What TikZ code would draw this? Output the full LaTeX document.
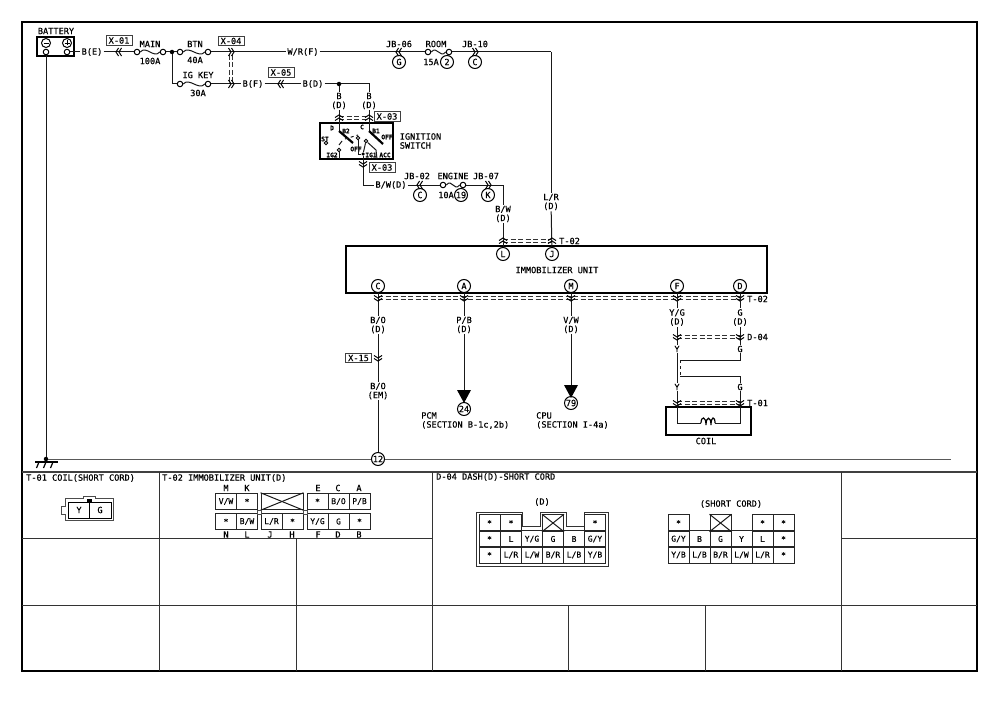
\documentclass[tikz,border=0pt]{standalone}
\usepackage{fontspec}
\setmainfont[RawFeature={embolden=0.35}]{DejaVu Sans Mono}
\usetikzlibrary{arrows.meta}
\newcommand{\cellstar}{\raisebox{-1.6pt}{*}}
\newcommand{\hlink}[3]{\foreach \off in {-1.3,1.3} \draw[dashlink] (#1,#3+\off) -- (#2,#3+\off);}
\newcommand{\vlink}[3]{\foreach \off in {-1.3,1.3} \draw[dashlink] (#1+\off,#2) -- (#1+\off,#3);}
\tikzset{
  wire/.style={line width=1pt,black!90},
  frameline/.style={line width=1pt,black!80},
  heavy/.style={line width=2.2pt,black},
  dashlink/.style={line width=0.7pt,dash pattern=on 5pt off 2.5pt,black!80},
  lbl/.style={inner sep=1pt,font=\fontsize{8.6}{9}\selectfont,align=center},
  tiny/.style={inner sep=0pt,font=\fontsize{6.2}{7}\selectfont\bfseries},
  tag/.style={draw=black!75,line width=0.9pt,inner sep=0pt,minimum width=26pt,minimum height=9.5pt,font=\fontsize{8.6}{9}\selectfont},
  pin/.style={draw,circle,line width=1pt,inner sep=0pt,minimum size=13pt,font=\fontsize{8.6}{9}\selectfont},
  term/.style={draw,circle,line width=1pt,inner sep=0pt,minimum size=5.5pt},
  junction/.style={fill,circle,inner sep=0pt,minimum size=4.5pt},
  cell/.style={draw=black!85,line width=1pt,inner sep=0pt,minimum width=21pt,minimum height=16.5pt,font=\fontsize{8}{9}\selectfont},
  chev/.pic={
    \draw[line width=1pt,black] (-4,-2.5) -- (0,0) -- (4,-2.5);
    \draw[line width=1pt,black] (-4,0.5) -- (0,3) -- (4,0.5);
  },
}
\begin{document}
\begin{tikzpicture}[x=1pt,y=-1pt]
\useasboundingbox (0,0) rectangle (1000,706);

% Frame and grid
\draw[line width=1.8pt] (22,22) rectangle (977,671);
\draw[line width=1.6pt,black!75] (22,472) -- (977,472);
\draw[frameline] (22,605) -- (977,605);
\draw[frameline] (22,538) -- (432,538);
\draw[frameline] (841,538) -- (977,538);
\foreach \x in {159,432,841} \draw[frameline] (\x,472) -- (\x,671);
\draw[frameline] (296,538) -- (296,671);
\foreach \x in {568,705} \draw[frameline] (\x,605) -- (\x,671);

% Battery
\node[lbl] (batlabel) at (56,31) {BATTERY};
\draw[heavy] (37,37) rectangle (74,56);
\node[term,minimum size=9pt] (batm) at (46,43) {};
\node[term,minimum size=9pt] (batp) at (67,43) {};
\draw (43.5,43) -- (48.5,43);
\draw (64.5,43) -- (69.5,43) (67,40.5) -- (67,45.5);
\node[term] (batb) at (46,52) {};
\node[term] (batc) at (67,52) {};

% Fuses
\foreach \fname/\xa/\xb/\yy in {main/137/163/52,btn/180/208/52,igkey/180/208/84,room/428/449/52,engine/443/463/185}{
  \node[term] (\fname a) at (\xa,\yy) {};
  \node[term] (\fname b) at (\xb,\yy) {};
  \draw[wire] (\fname a.east) .. controls +(6,-7) and +(-6,7) .. (\fname b.west);
}

% Labels of the top row
\node[lbl] (be) at (92,52) {B(E)};
\node[tag] (x01) at (119,40.5) {X-01};
\node[lbl] (lmain) at (150,44) {MAIN};
\node[lbl] (l100) at (150,61) {100A};
\node[junction] (j1) at (172,52) {};
\node[lbl] (lbtn) at (195,44) {BTN};
\node[lbl] (l40) at (195,60) {40A};
\node[tag] (x04) at (231,41) {X-04};
\node[lbl] (wrf) at (303,52) {W/R(F)};
\node[lbl] (ljb06) at (399,44) {JB-06};
\node[pin] (pG) at (399,62) {G};
\node[lbl] (lroom) at (436,44) {ROOM};
\node[lbl] (l15) at (431,62) {15A};
\node[pin] (p2) at (447,62) {2};
\node[lbl] (ljb10) at (475,44) {JB-10};
\node[pin] (pC2) at (475,62) {C};
\node[lbl] (lgkey) at (198,75) {IG KEY};
\node[lbl] (l30) at (198,93) {30A};
\node[lbl] (bf) at (253,84) {B(F)};
\node[tag] (x05) at (281,72.5) {X-05};
\node[lbl] (bd) at (313,84) {B(D)};
\node[junction] (j2) at (339,84) {};
\coordinate (c1) at (369,84);
\coordinate (c2) at (551,52);
\node[lbl] (bd1) at (339,101) {B\\(D)};
\node[lbl] (bd2) at (369,101) {B\\(D)};

% Top wires
\draw[wire] (batc) -- (be) -- (maina);
\draw[wire] (mainb) -- (j1) -- (btna);
\draw[wire] (btnb) -- (wrf) -- (rooma);
\draw[wire] (roomb) -- (c2);
\draw[wire] (j1) |- (igkeya);
\draw[wire] (igkeyb) -- (bf) -- (bd) -- (j2) -- (c1) -- (bd2);
\draw[wire] (j2) -- (bd1);
\vlink{231}{55}{81}
\pic[rotate=-90] at (119,52) {chev};
\pic[rotate=90] at (231,52) {chev};
\pic[rotate=90] at (231,84) {chev};
\pic[rotate=-90] at (281,84) {chev};
\pic[rotate=-90] at (399,52) {chev};
\pic[rotate=90] at (475,52) {chev};

% Ignition switch
\node[tag] (x03a) at (387,116.5) {X-03};
\hlink{339}{369}{118}
\draw[heavy] (320,123) rectangle (393,159);
\coordinate (swd) at (339,131);
\coordinate (swc) at (369,131);
\draw[wire] (bd1) -- (swd);
\draw[wire] (bd2) -- (swc);
\pic[rotate=180] at (339,118) {chev};
\pic[rotate=180] at (369,118) {chev};
\draw[line width=2.2pt] (339,131) -- (353,143);
\draw[line width=2.2pt] (369,131) -- (383,144);
\draw[wire] (339,145) -- (342,141);
\draw[wire,dashed] (345,139) -- (358,135);
\node[tiny] (sd) at (332,128) {D};
\node[tiny] (sb2) at (346,131) {B2};
\node[tiny] (soff1) at (356,149) {OFF};
\node[tiny] (sc) at (362,127) {C};
\node[tiny] (sb1) at (376,131) {B1};
\node[tiny] (soff2) at (387,137) {OFF};
\node[tiny] (sst) at (325,139) {ST};
\node[tiny] (sig2) at (332,155) {IG2};
\node[tiny] (sig1) at (371,155) {IG1};
\node[tiny] (sacc) at (385,155) {ACC};
\node[term,minimum size=3.5pt] (tst) at (326,143) {};
\node[term,minimum size=3.5pt] (tig2) at (339,150) {};
\node[term,minimum size=3.5pt] (tb) at (358,138) {};
\node[term,minimum size=3.5pt] (ta) at (366,141) {};
\node[junction,minimum size=3.5pt] (jsw) at (363,154) {};
\draw[wire] (tig2) -- (339,159);
\draw[wire] (tb) |- (jsw);
\draw[wire] (ta) -- (jsw);
\draw[wire] (ta) -- (376,150) -- (377,159);
\node[lbl,align=left] (lign) at (420.5,141) {IGNITION\\SWITCH};
\node[tag] (x03b) at (382,167.5) {X-03};

% Engine branch
\node[lbl] (bwd) at (391,185) {B/W(D)};
\node[lbl] (ljb02) at (417,176) {JB-02};
\node[pin] (pC3) at (420,195) {C};
\node[lbl] (lengine) at (453,176) {ENGINE};
\node[lbl] (l10) at (446,195) {10A};
\node[pin] (p19) at (461,195) {19};
\node[lbl] (ljb07) at (486,176) {JB-07};
\node[pin] (pK) at (488,195) {K};
\node[lbl] (bw2) at (503,214) {B/W\\(D)};
\node[lbl] (lr) at (551,202) {L/R\\(D)};
\coordinate (c3) at (503,185);
\draw[wire] (jsw) |- (bwd);
\draw[wire] (bwd) -- (enginea);
\draw[wire] (engineb) -- (c3) -- (bw2);
\draw[wire] (c2) -- (lr);
\pic at (363,164) {chev};
\pic[rotate=-90] at (420,185) {chev};
\pic[rotate=90] at (488,185) {chev};

% Immobilizer unit
\draw[heavy] (346,246) rectangle (767,293);
\node[lbl] (limmo) at (557,270) {IMMOBILIZER UNIT};
\foreach \pname/\x/\yy in {L/503/254,J/552/254,C/378/286,A/464/286,M/571/286,F/677/286,D/740/286}
  \node[pin] (p\pname) at (\x,\yy) {\pname};
\draw[wire] (bw2) -- (pL);
\draw[wire] (lr) -- (pJ);
\hlink{503}{552}{241}
\pic[rotate=180] at (503,241) {chev};
\pic[rotate=180] at (552,241) {chev};
\node[lbl,anchor=west] (t02a) at (558,241) {T-02};
\hlink{378}{740}{298}
\node[lbl,anchor=west] (t02b) at (746,299) {T-02};

% Lower wires
\node[lbl] (bo1) at (378,325) {B/O\\(D)};
\node[tag] (x15) at (358.5,358) {X-15};
\node[lbl] (bo2) at (378,391) {B/O\\(EM)};
\node[pin] (p12) at (378,459) {12};
\draw[wire] (pC) -- (bo1) -- (bo2) -- (p12);
\node[lbl] (pb) at (464,325) {P/B\\(D)};
\node[lbl] (vw) at (571,325) {V/W\\(D)};
\coordinate (arra) at (464,390);
\coordinate (arrm) at (571,385);
\draw[wire] (pA) -- (pb) -- (arra);
\draw[wire] (pM) -- (vw) -- (arrm);
\fill (457,390) -- (471,390) -- (464,403) -- cycle;
\fill (564,385) -- (578,385) -- (571,398) -- cycle;
\node[pin] (p24) at (464,409) {24};
\node[pin] (p79) at (571,403) {79};
\node[lbl,align=left,anchor=north west] (lpcm) at (420,411) {PCM\\(SECTION B-1c,2b)};
\node[lbl,align=left,anchor=north west] (lcpu) at (535,411) {CPU\\(SECTION I-4a)};
\foreach \x in {378,464,571,677,740} \pic at (\x,298) {chev};
\pic at (378,358) {chev};

% Coil branch
\node[lbl] (yg) at (677,317.5) {Y/G\\(D)};
\node[lbl] (gd) at (740,317.5) {G\\(D)};
\node[lbl] (y1) at (677,349) {Y};
\node[lbl] (g1) at (740,349) {G};
\node[lbl] (y2) at (677,387) {Y};
\node[lbl] (g2) at (740,387) {G};
\node[lbl,anchor=west] (d04) at (746,337) {D-04};
\node[lbl,anchor=west] (t01) at (746,403) {T-01};
\node[lbl] (lcoil) at (706,441) {COIL};
\draw[heavy] (666,407) rectangle (751,435);
\coordinate (cr1) at (680,360);
\coordinate (cr2) at (680,376);
\coordinate (coilA) at (701,423);
\coordinate (coilB) at (715,423);
\draw[wire] (pF) -- (yg) -- (y1) -- (y2) -- (677,423) -- (coilA);
\draw[wire] (pD) -- (gd) -- (g1);
\draw[wire] (g1) |- (cr1);
\draw[wire,dashed] (cr1) -- (cr2);
\draw[wire] (cr2) -| (g2);
\draw[wire] (g2) -- (740,423) -- (coilB);
\draw[line width=1.2pt] (coilA) .. controls (701,416) and (706,416) .. (706,425)
  .. controls (706,416) and (711,416) .. (711,425)
  .. controls (711,416) and (715,416) .. (coilB);
\hlink{677}{740}{337}
\hlink{677}{740}{403}
\foreach \x in {677,740}{
  \pic at (\x,337) {chev};
  \pic at (\x,403) {chev};
}

% Ground
\coordinate (gndend) at (951,459);
\node[junction] (jgnd) at (46,459) {};
\draw[wire] (batb) -- (jgnd);
\draw[wire,black!65] (jgnd) -- (p12) -- (gndend);
\draw[line width=1.4pt] (35,462) -- (58,462);
\foreach \x in {39,46,53} \draw[line width=1.2pt] (\x,462) -- (\x-2.5,468);

% Section titles
\node[lbl,anchor=west] (tt01) at (25,478) {T-01 COIL(SHORT CORD)};
\node[lbl,anchor=west] (tt02) at (161,478) {T-02 IMMOBILIZER UNIT(D)};
\node[lbl,anchor=west] (td04) at (435,477) {D-04 DASH(D)-SHORT CORD};

% T-01 connector
\draw[line width=0.7pt,black!70] (65,498) -- (83,498) -- (83,496.5) -- (95,496.5) -- (95,498) -- (113,498) -- (113,520) -- (65,520) -- (65,514) -- (61,514) -- (61,506) -- (65,506) -- cycle;
\draw[line width=0.8pt] (68,502) rectangle (111,518);
\draw[line width=0.8pt] (89,502) -- (89,518);
\fill (87,499) rectangle (92,501.5);
\node[lbl] (cy) at (79,510) {Y};
\node[lbl] (cg) at (100,510) {G};

% T-02 connector
\foreach \x/\t in {226/M,247/K,318/E,338/C,359/A}
  \node[lbl] (top\t) at (\x,488) {\t};
\foreach \x/\t in {226/N,247/L,270/J,292/H,318/F,338/D,359/B}
  \node[lbl] (bot\t) at (\x,534.5) {\t};
\foreach \n/\x/\yy/\t in {a/226/501.5/{V/W},b/247/501.5/\cellstar,c/226/521.5/\cellstar,d/247/521.5/{B/W},e/271.5/521.5/{L/R},f/292.5/521.5/\cellstar,g/317.5/501.5/\cellstar,h/338.5/501.5/{B/O},i/359.5/501.5/{P/B},j/317.5/521.5/{Y/G},k/338.5/521.5/G,l/359.5/521.5/\cellstar}
  \node[cell] (tt\n) at (\x,\yy) {\t};
\node[cell,minimum width=42pt] (ttx) at (282,501.5) {};
\draw[wire] (ttx.north west) -- (ttx.south east);
\draw[wire] (ttx.south west) -- (ttx.north east);
\draw[line width=0.7pt,black!70] (257.5,510) rectangle (261,514);
\draw[line width=0.7pt,black!70] (303,510) rectangle (307,514);

% D-04 connector (D)
\node[lbl] (ld) at (542,502) {(D)};
\draw[line width=0.9pt,black!80] (476,512) -- (522,512) -- (522,526) -- (540,526) -- (540,512) -- (566,512) -- (566,526) -- (584,526) -- (584,512) -- (608,512) -- (608,566) -- (476,566) -- cycle;
\foreach \n/\x/\yy/\t in {a/489.5/523/\cellstar,b/511/523/\cellstar,c/595/523/\cellstar,
  d/489.5/539/\cellstar,e/511/539/L,f/532/539/{Y/G},g/553/539/G,h/574/539/B,i/595/539/{G/Y},
  j/489.5/555/\cellstar,k/511/555/{L/R},l/532/555/{L/W},m/553/555/{B/R},n/574/555/{L/B},o/595/555/{Y/B}}
  \node[cell] (dd\n) at (\x,\yy) {\t};
\node[cell] (ddx) at (553,523) {};
\draw[wire] (ddx.north west) -- (ddx.south east);
\draw[wire] (ddx.south west) -- (ddx.north east);

% D-04 connector (short cord)
\node[lbl] (lsc) at (731,504) {(SHORT CORD)};
\foreach \n/\x/\yy/\t in {a/678.5/523/\cellstar,b/762.5/523/\cellstar,c/783.5/523/\cellstar,
  d/678.5/539/{G/Y},e/699.5/539/B,f/720.5/539/G,g/741.5/539/Y,h/762.5/539/L,i/783.5/539/\cellstar,
  j/678.5/555/{Y/B},k/699.5/555/{L/B},l/720.5/555/{B/R},m/741.5/555/{L/W},n/762.5/555/{L/R},o/783.5/555/\cellstar}
  \node[cell] (sc\n) at (\x,\yy) {\t};
\node[cell] (scx) at (720.5,523) {};
\draw[wire] (scx.north west) -- (scx.south east);
\draw[wire] (scx.south west) -- (scx.north east);

\end{tikzpicture}
\end{document}
